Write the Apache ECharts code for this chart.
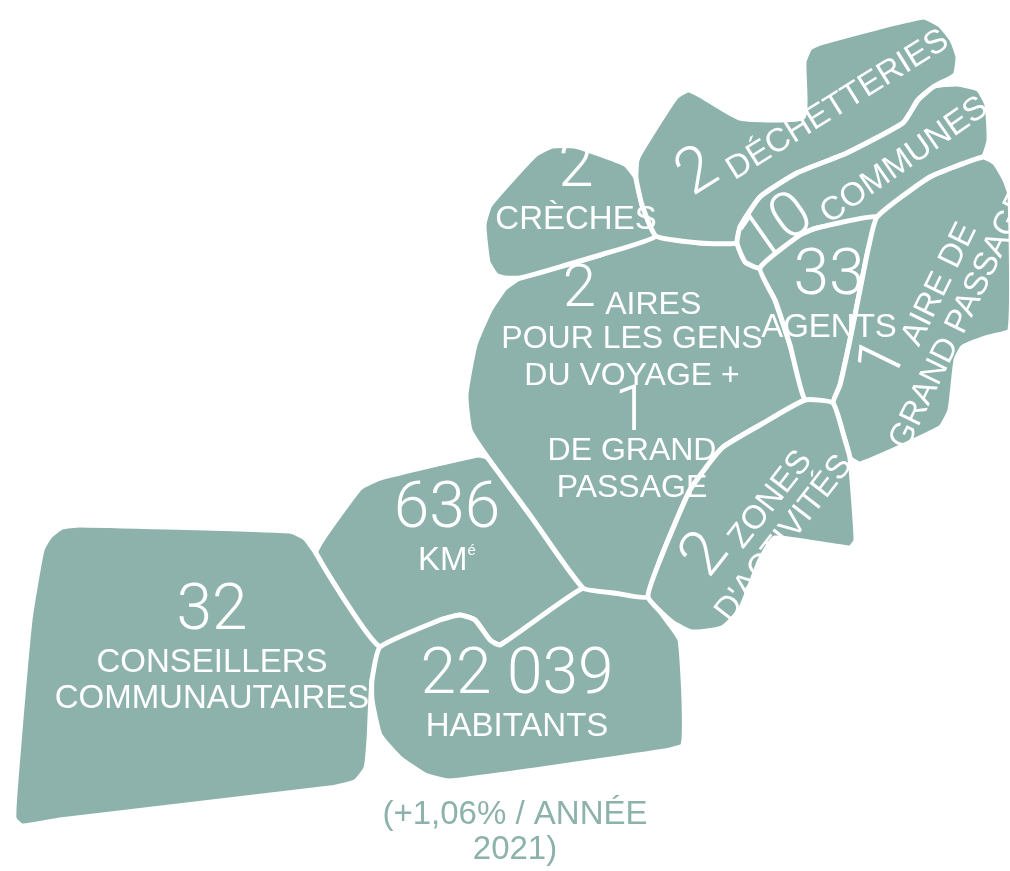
<!DOCTYPE html>
<html>
<head>
<meta charset="utf-8">
<script src="https://cdn.jsdelivr.net/npm/echarts@6/dist/echarts.min.js"></script>
<style>
  html, body { margin: 0; padding: 0; background: #fff; }
  #chart { width: 1010px; height: 871px; }
</style>
</head>
<body>
<div id="chart"></div>
<script>
// chiffres clés
const names = ['Conseillers', 'Superficie', 'Habitants', 'Aires gens du voyage', 'Crèches',
  'Déchetteries', 'Communes', 'Agents', 'Aire de grand passage', "Zones d'activités"];
const values = [32, 636, 22039, 2, 2, 2, 10, 33, 1, 2];
const captions = ['CONSEILLERS\nCOMMUNAUTAIRES', 'KM', 'HABITANTS', 'AIRES\nPOUR LES GENS\nDU VOYAGE +',
  'CRÈCHES', 'DÉCHETTERIES', 'COMMUNES', 'AGENTS', 'AIRE DE\nGRAND PASSAGE', "ZONES\nD'ACTIVITÉS"];
const unitSup = 'é';
const extraValue = 1;
const extraCaption = 'DE GRAND\nPASSAGE';
const growthNote = ['(+1,06% / ANNÉE', '2021)'];

const teal = '#8db2ab';

// contours des zones (repère 1010 x 871) + position / rotation des textes
const shapeLayout = [
  { pts: [[50,536],[62,527],[80,525],[290,531],[305,538],[316,553],[380,647],[372,680],[369,740],[366,768],[355,782],[330,788],[60,820],[22,826],[14,818],[16,780],[30,620],[42,550]],
    at: [212, 648], rot: 0 },
  { pts: [[316,553],[322,540],[360,488],[380,478],[478,455],[488,458],[530,515],[583,588],[500,645],[490,640],[475,620],[460,615],[440,620],[380,647]],
    at: [447, 528], rot: 0 },
  { pts: [[380,647],[440,620],[460,615],[475,620],[490,640],[500,645],[583,588],[615,593],[648,597],[668,622],[680,640],[684,700],[683,745],[665,751],[450,781],[425,775],[400,758],[380,735],[372,700],[372,680]],
    at: [517, 694], rot: 0 },
  { pts: [[520,278],[600,255],[656,236],[700,243],[737,243],[760,268],[775,300],[790,345],[805,400],[760,425],[722,448],[690,490],[660,560],[648,597],[615,593],[583,588],[530,515],[488,458],[470,430],[466,395],[475,345],[490,310],[505,288]],
    at: [632, 391], rot: 0, inline: true, small: true },
  { pts: [[505,278],[520,278],[600,255],[656,236],[642,205],[636,178],[625,164],[575,146],[552,146],[535,155],[490,205],[484,225],[488,262],[496,275]],
    at: [576, 187], rot: 0 },
  { pts: [[656,236],[642,205],[636,178],[637,160],[645,145],[676,97],[688,90],[700,95],[740,118],[803,117],[804,62],[810,48],[820,43],[923,17],[940,25],[952,40],[958,57],[955,75],[935,86],[918,100],[903,123],[847,153],[797,173],[760,197],[740,227],[737,243],[700,243]],
    at: [810, 103], rot: 32, inline: true },
  { pts: [[737,243],[740,227],[760,197],[797,173],[847,153],[903,123],[918,100],[935,86],[957,84],[978,89],[987,105],[989,140],[983,157],[930,177],[877,217],[817,228],[800,235],[760,268],[745,262]],
    at: [862, 170], rot: 35, inline: true },
  { pts: [[760,268],[800,235],[817,228],[877,217],[868,250],[860,290],[850,340],[840,385],[833,403],[805,400],[790,345],[775,300]],
    at: [829, 295], rot: 0 },
  { pts: [[877,217],[930,177],[983,157],[995,163],[1005,180],[1010,195],[1010,330],[985,338],[963,347],[956,360],[950,410],[940,428],[860,464],[850,458],[845,440],[833,403],[840,385],[850,340],[860,290],[868,250]],
    at: [931, 305], rot: 64, inline: true },
  { pts: [[805,400],[833,403],[845,440],[850,458],[856,540],[850,548],[775,538],[760,560],[740,610],[722,628],[692,632],[672,622],[648,597],[660,560],[690,490],[722,448],[760,425]],
    at: [758, 518], rot: 52, inline: true }
];
const notePos = [515, 832];

const labelFont = 'Liberation Sans, Arial, sans-serif';
const numFont = 'Roboto, Liberation Sans, sans-serif';
const rich = {
  nb: { fontFamily: numFont, fontWeight: 300, fontSize: 64, lineHeight: 66, fill: '#fff', verticalAlign: 'bottom' },
  mb: { fontFamily: labelFont, fontSize: 33, lineHeight: 46, fill: '#fff', verticalAlign: 'bottom' },
  ns: { fontFamily: numFont, fontWeight: 300, fontSize: 60, lineHeight: 46, fill: '#fff', verticalAlign: 'bottom' },
  ms: { fontFamily: labelFont, fontSize: 32, lineHeight: 26, fill: '#fff', verticalAlign: 'bottom' },
  n1: { fontFamily: numFont, fontWeight: 300, fontSize: 64, lineHeight: 38, fill: '#fff' },
  l: { fontFamily: labelFont, fontSize: 33, lineHeight: 36, fill: '#fff' },
  ls: { fontFamily: labelFont, fontSize: 32, lineHeight: 37, fill: '#fff' },
  sup: { fontFamily: labelFont, fontSize: 15, lineHeight: 26, fill: '#fff', verticalAlign: 'top' }
};

function fmt(v) {
  return String(v).replace(/\B(?=(\d{3})+(?!\d))/g, ' ');
}

function richLabel(i) {
  const L = shapeLayout[i];
  const lines = captions[i].split('\n');
  const num = fmt(values[i]);
  const ls = L.small ? 'ls' : 'l';
  let out;
  if (L.inline) {
    out = L.small ? `{ns|${num}} {ms|${lines[0]}}` : `{nb|${num}} {mb|${lines[0]}}`;
    out += lines.slice(1).map(t => `\n{${ls}|${t}}`).join('');
  } else {
    out = `{nb|${num}}` + lines.map(t => `\n{l|${t}}`).join('');
  }
  if (i === 1) out += `{sup|${unitSup}}`;
  if (i === 3) {
    out += `\n{n1|${extraValue}}` + extraCaption.split('\n').map(t => `\n{ls|${t}}`).join('');
  }
  return out;
}

const chart = echarts.init(document.getElementById('chart'));

chart.setOption({
  backgroundColor: '#fff',
  animation: false,
  grid: { left: 0, right: 0, top: 0, bottom: 0 },
  xAxis: { type: 'value', min: 0, max: 1010, show: false },
  yAxis: { type: 'value', min: 0, max: 871, inverse: true, show: false },
  series: [{
    type: 'custom',
    coordinateSystem: 'cartesian2d',
    data: values.map((v, i) => ({ name: names[i], value: [i, v] })),
    renderItem: function (params, api) {
      const i = params.dataIndex;
      const L = shapeLayout[i];
      const c = api.coord(L.at);
      const children = [
        {
          type: 'polygon',
          z2: 1,
          shape: { points: L.pts.map(p => api.coord(p)), smooth: 0.15 },
          style: { fill: teal, stroke: '#fff', lineWidth: 5, lineJoin: 'round' }
        },
        {
          type: 'text',
          z2: 10,
          x: c[0], y: c[1],
          rotation: L.rot * Math.PI / 180,
          style: {
            text: richLabel(i), rich: rich,
            align: 'center', verticalAlign: 'middle',
            fill: '#fff', fontFamily: labelFont, fontSize: 33
          }
        }
      ];
      if (i === 2) {
        const n = api.coord(notePos);
        children.push({
          type: 'text', z2: 10, x: n[0], y: n[1],
          style: {
            text: growthNote.join('\n'), align: 'center', verticalAlign: 'middle',
            fill: teal, fontFamily: labelFont, fontSize: 33, lineHeight: 35
          }
        });
      }
      return { type: 'group', children: children };
    }
  }]
});

window.addEventListener('resize', () => chart.resize());
</script>
</body>
</html>
